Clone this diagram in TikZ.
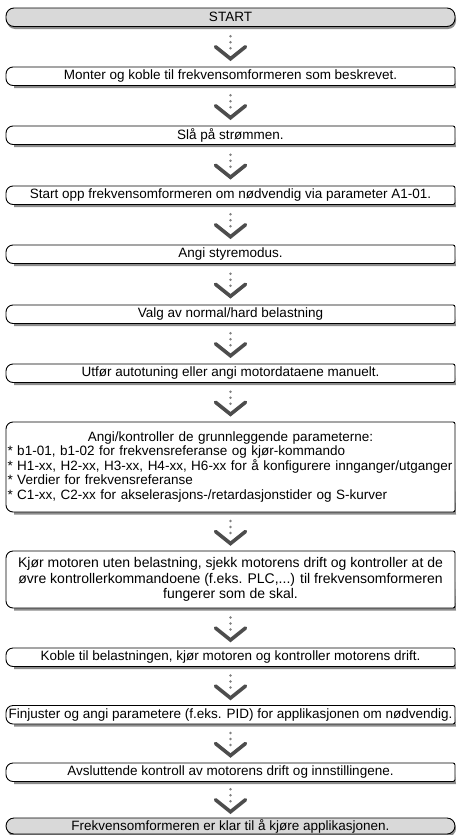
\documentclass[tikz,border=0pt]{standalone}
\usepackage{fontspec}
\setmainfont{Liberation Sans}
\usetikzlibrary{calc}
\definecolor{boxgray}{HTML}{D9D9D9}
\definecolor{shadowgray}{HTML}{8C8C8C}
\definecolor{chevgray}{HTML}{4D4D4D}
\definecolor{dotgray}{HTML}{808080}
\newcommand\fsz{\fontsize{13.5}{14.5}\selectfont}
\newcommand\fszb{\fontsize{14}{15.5}\selectfont}
\newcommand\stepshape[1]{%
  \fill[shadowgray] ([xshift=8pt,yshift=-2.5pt]#1.north west) -- ([xshift=-1pt,yshift=-2.5pt]#1.north east) -- ([xshift=1pt,yshift=-2.5pt]#1.south east) -- ([xshift=8pt,yshift=-2.5pt]#1.south west) -- cycle;
  \draw[boxline,fill=white] ([xshift=7pt]#1.north west) -- ([xshift=-2pt]#1.north east) arc[start angle=90,end angle=0,radius=2pt] -- ([yshift=2pt]#1.south east) arc[start angle=0,end angle=-90,radius=2pt] -- ([xshift=7pt]#1.south west) arc[start angle=270,end angle=180,radius=7pt] -- ([yshift=-7pt]#1.north west) arc[start angle=180,end angle=90,radius=7pt] -- cycle;
}
\newcommand\pillshape[1]{%
  \fill[shadowgray,rounded corners=8pt] ([xshift=1pt,yshift=-2.5pt]#1.north west) rectangle ([xshift=1pt,yshift=-2.5pt]#1.south east);
  \draw[boxline,fill=boxgray,rounded corners=8pt] (#1.north west) rectangle (#1.south east);
}
\newcommand\flowarrow[2]{%
  \coordinate (#1-#2-m) at ($(#1.south)!0.5!(#2.north)$);
  \fill[dotgray] ($(#1-#2-m)+(0,10.5)$) circle (1.3) ($(#1-#2-m)+(0,4.5)$) circle (1.3) ($(#1-#2-m)+(0,-1.5)$) circle (1.3);
  \draw[chevron] ($(#1-#2-m)+(-15,0)$) -- ($(#1-#2-m)+(0,-12)$) -- ($(#1-#2-m)+(15,0)$);
}
\tikzset{
  boxline/.style={draw=black,line width=0.9pt},
  chevron/.style={draw=chevgray,line width=3.6pt,line cap=round},
  stepbox/.style={minimum width=449pt,minimum height=18.5pt,inner sep=0pt,outer sep=0pt,anchor=north,font=\fsz,align=center},
}
\begin{document}
\begin{tikzpicture}[x=1pt,y=1pt]
\useasboundingbox (0,0) rectangle (457,-835);
\node[stepbox] (s1) at (230.5,-8) {};
\node[stepbox] (s2) at (230.5,-67) {};
\node[stepbox] (s3) at (230.5,-126) {};
\node[stepbox] (s4) at (230.5,-186) {};
\node[stepbox] (s5) at (230.5,-245) {};
\node[stepbox] (s6) at (230.5,-305) {};
\node[stepbox] (s7) at (230.5,-364) {};
\node[stepbox,minimum height=90pt] (s8) at (230.5,-422) {};
\node[stepbox,minimum height=57pt] (s9) at (230.5,-551) {};
\node[stepbox] (s10) at (230.5,-648) {};
\node[stepbox] (s11) at (230.5,-705.5) {};
\node[stepbox] (s12) at (230.5,-763) {};
\node[stepbox,minimum height=16pt] (s13) at (230.5,-818) {};
\pillshape{s1}
\stepshape{s2}\stepshape{s3}\stepshape{s4}\stepshape{s5}\stepshape{s6}\stepshape{s7}
\stepshape{s8}\stepshape{s9}\stepshape{s10}\stepshape{s11}\stepshape{s12}
\pillshape{s13}
\node[font=\fsz] (t1) at (s1) {START};
\node[font=\fsz] (t2) at (s2) {Monter og koble til frekvensomformeren som beskrevet.};
\node[font=\fsz] (t3) at (s3) {Slå på strømmen.};
\node[font=\fsz] (t4) at (s4) {Start opp frekvensomformeren om nødvendig via parameter A1-01.};
\node[font=\fsz] (t5) at (s5) {Angi styremodus.};
\node[font=\fsz] (t6) at (s6) {Valg av normal/hard belastning};
\node[font=\fsz] (t7) at (s7) {Utfør autotuning eller angi motordataene manuelt.};
\node[font=\fsz,text width=446pt,align=left,inner sep=0pt] (t8) at (s8) {\makebox[446pt][c]{Angi/kontroller de grunnleggende parameterne:}\\{}%
* b1-01, b1-02 for frekvensreferanse og kjør-kommando\\{}%
* H1-xx, H2-xx, H3-xx, H4-xx, H6-xx for å konfigurere innganger/utganger\\{}%
* Verdier for frekvensreferanse\\{}%
* C1-xx, C2-xx for akselerasjons-/retardasjonstider og S-kurver};
\node[font=\fszb,align=center,inner sep=0pt] (t9) at (s9) {Kjør motoren uten belastning, sjekk motorens drift og kontroller at de\\øvre kontrollerkommandoene (f.eks. PLC,...) til frekvensomformeren\\fungerer som de skal.};
\node[font=\fsz] (t10) at (s10) {Koble til belastningen, kjør motoren og kontroller motorens drift.};
\node[font=\fsz] (t11) at (s11) {Finjuster og angi parametere (f.eks. PID) for applikasjonen om nødvendig.};
\node[font=\fsz] (t12) at (s12) {Avsluttende kontroll av motorens drift og innstillingene.};
\node[font=\fsz] (t13) at (s13) {Frekvensomformeren er klar til å kjøre applikasjonen.};
\flowarrow{s1}{s2}\flowarrow{s2}{s3}\flowarrow{s3}{s4}\flowarrow{s4}{s5}
\flowarrow{s5}{s6}\flowarrow{s6}{s7}\flowarrow{s7}{s8}\flowarrow{s8}{s9}
\flowarrow{s9}{s10}\flowarrow{s10}{s11}\flowarrow{s11}{s12}\flowarrow{s12}{s13}
\end{tikzpicture}
\end{document}
